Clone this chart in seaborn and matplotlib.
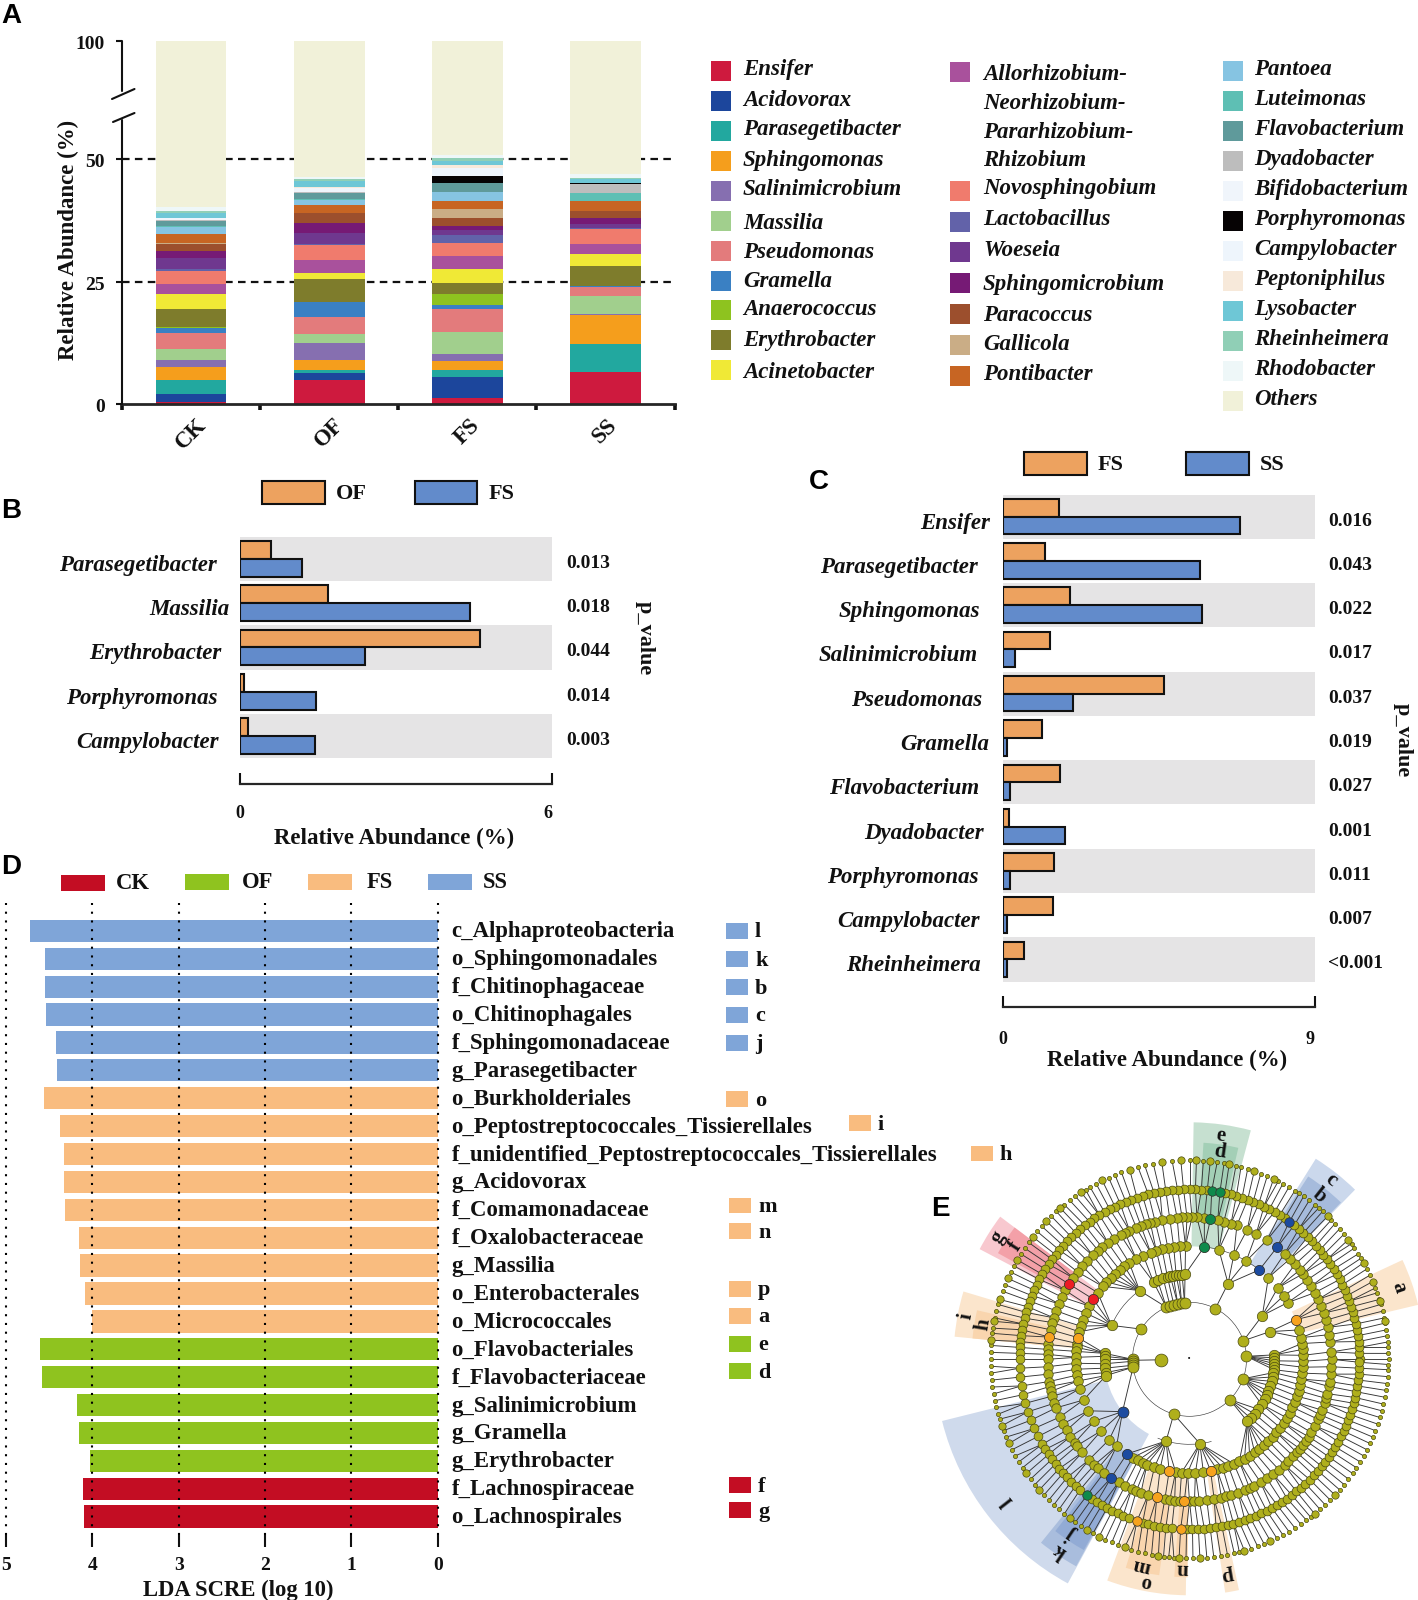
import numpy as np
import pandas as pd
import matplotlib
matplotlib.use("Agg")
import matplotlib.pyplot as plt
from matplotlib.patches import Rectangle, Wedge
from matplotlib.lines import Line2D
from matplotlib.collections import LineCollection
from matplotlib.transforms import ScaledTranslation
import seaborn as sns

# ---------- panel A data ----------
groups_a = ["CK", "OF", "FS", "SS"]
genera = ["Ensifer", "Acidovorax", "Parasegetibacter", "Sphingomonas", "Salinimicrobium", "Massilia",
          "Pseudomonas", "Gramella", "Anaerococcus", "Erythrobacter", "Acinetobacter",
          "Allorhizobium-Neorhizobium-Pararhizobium-Rhizobium", "Novosphingobium", "Lactobacillus",
          "Woeseia", "Sphingomicrobium", "Paracoccus", "Gallicola", "Pontibacter", "Pantoea",
          "Luteimonas", "Flavobacterium", "Dyadobacter", "Bifidobacterium", "Porphyromonas",
          "Campylobacter", "Peptoniphilus", "Lysobacter", "Rheinheimera", "Rhodobacter"]
ck_abund = [0.5, 1.6, 2.7, 2.8, 1.4, 2.2, 3.3, 0.95, 0.2, 3.7, 3.1, 2.1, 2.6, 0.3, 2.4, 1.3, 1.6, 0.05, 1.9,
            1.4, 0.3, 1.0, 0.2, 0.1, 0.15, 0.1, 0.1, 1.0, 0.3, 0.8]
of_abund = [4.9, 1.5, 0.6, 2.05, 3.5, 1.7, 3.6, 2.9, 0.03, 4.7, 1.2, 2.8, 2.9, 0.3, 2.3, 2.0, 2.0, 0.03, 1.7,
            0.95, 0.1, 1.4, 0.05, 0.8, 0.05, 0.1, 0.1, 1.2, 0.45, 0.4]
fs_abund = [1.2, 4.4, 1.3, 1.9, 1.4, 4.4, 4.7, 1.0, 2.1, 2.3, 2.9, 2.7, 2.6, 1.5, 1.2, 0.8, 1.5, 1.8, 1.7,
            1.8, 0.1, 1.85, 0.02, 0.02, 1.4, 1.6, 0.6, 0.9, 0.6, 0.5]
ss_abund = [6.55, 0.02, 5.7, 5.8, 0.3, 3.6, 2.0, 0.02, 0.02, 4.1, 2.6, 2.0, 3.1, 0.1, 0.8, 1.2, 1.4, 0.02, 2.0,
            0.07, 1.6, 0.1, 1.85, 0.02, 0.13, 0.02, 0.02, 0.8, 0.1, 0.9]
genus_colors = ["#CE1A3E", "#1C469C", "#22A89F", "#F59E1C", "#866FB0", "#A1CF8D", "#E37B7C", "#3A80C3",
                "#8EC31F", "#7E7C2C", "#F0E936", "#A9519C", "#F07B6D", "#6262A9", "#6F388F", "#761A75",
                "#9C4F2D", "#CAAD86", "#C76523", "#86C4E2", "#5EBFB4", "#5F9A9B", "#BDBDBD", "#F0F5FB",
                "#060304", "#EEF5FC", "#F7E9DA", "#6EC7D6", "#90CFB6", "#EEF7F8"]
others_color = "#F1F1D9"

leg1 = ["Ensifer", "Acidovorax", "Parasegetibacter", "Sphingomonas", "Salinimicrobium", "Massilia",
        "Pseudomonas", "Gramella", "Anaerococcus", "Erythrobacter", "Acinetobacter"]
leg2 = ["Novosphingobium", "Lactobacillus", "Woeseia", "Sphingomicrobium", "Paracoccus", "Gallicola", "Pontibacter"]
leg2_multi = ["Allorhizobium-", "Neorhizobium-", "Pararhizobium-", "Rhizobium"]
leg3 = ["Pantoea", "Luteimonas", "Flavobacterium", "Dyadobacter", "Bifidobacterium", "Porphyromonas",
        "Campylobacter", "Peptoniphilus", "Lysobacter", "Rheinheimera", "Rhodobacter", "Others"]

# ---------- panel B data ----------
b_genus = ["Parasegetibacter", "Massilia", "Erythrobacter", "Porphyromonas", "Campylobacter"]
b_of = [0.61, 1.69, 4.62, 0.08, 0.15]
b_fs = [1.20, 4.43, 2.40, 1.47, 1.44]
b_p = ["0.013", "0.018", "0.044", "0.014", "0.003"]

# ---------- panel C data ----------
c_genus = ["Ensifer", "Parasegetibacter", "Sphingomonas", "Salinimicrobium", "Pseudomonas", "Gramella",
           "Flavobacterium", "Dyadobacter", "Porphyromonas", "Campylobacter", "Rheinheimera"]
c_fs = [1.61, 1.21, 1.94, 1.37, 4.65, 1.14, 1.64, 0.16, 1.48, 1.44, 0.61]
c_ss = [6.84, 5.68, 5.74, 0.34, 2.02, 0.12, 0.19, 1.79, 0.19, 0.13, 0.12]
c_p = ["0.016", "0.043", "0.022", "0.017", "0.037", "0.019", "0.027", "0.001", "0.011", "0.007", "<0.001"]

# ---------- panel D data ----------
d_taxa = ["c_Alphaproteobacteria", "o_Sphingomonadales", "f_Chitinophagaceae", "o_Chitinophagales",
          "f_Sphingomonadaceae", "g_Parasegetibacter", "o_Burkholderiales", "o_Peptostreptococcales_Tissierellales",
          "f_unidentified_Peptostreptococcales_Tissierellales", "g_Acidovorax", "f_Comamonadaceae",
          "f_Oxalobacteraceae", "g_Massilia", "o_Enterobacterales", "o_Micrococcales", "o_Flavobacteriales",
          "f_Flavobacteriaceae", "g_Salinimicrobium", "g_Gramella", "g_Erythrobacter", "f_Lachnospiraceae",
          "o_Lachnospirales"]
d_lda = [4.72, 4.55, 4.55, 4.54, 4.42, 4.41, 4.56, 4.38, 4.33, 4.33, 4.32, 4.15, 4.14, 4.09, 4.00, 4.61, 4.58,
         4.18, 4.15, 4.03, 4.11, 4.10]
d_group = ["SS"] * 6 + ["FS"] * 9 + ["OF"] * 5 + ["CK"] * 2
d_palette = {"CK": "#C30D23", "OF": "#8FC31F", "FS": "#F9BC7F", "SS": "#7FA5D8"}
tag_letters = ["l", "k", "b", "c", "j", "o", "i", "h", "m", "n", "p", "a", "e", "d", "f", "g"]
tag_groups = ["SS", "SS", "SS", "SS", "SS", "FS", "FS", "FS", "FS", "FS", "FS", "FS", "OF", "OF", "CK", "CK"]
tag_y = [931, 959, 987, 1015, 1043, 1099, 1123, 1153.5, 1205.5, 1231, 1289, 1316, 1344, 1371, 1485, 1510]
tag_x = [726, 726, 726, 726, 726, 726, 848.5, 970.5, 729, 729, 729, 729, 729, 729, 729, 729]

# ---------- panel E data: node angles (degrees) on each ring of the cladogram ----------
ring1 = [181]
ring2 = [180, 182, 184, 186, 188, 148, 63, 19, 3, 340, 315, 254, 114, 110, 106, 102, 98, 95]
ring3 = [126, 156.5, 176, 178, 180, 183, 186, 189, 191, 218, 277, 254, 63, 31, 19, 115, 112, 108, 105, 103, 101,
         99, 97, 95, 93, 3, 1, 359, 357, 355, 353, 351, 348, 345, 342, 338, 335, 332, 328, 324, 320, 316, 313]
ring4 = [92, 95, 98, 101, 104, 107, 110, 114, 118, 122, 125, 128, 131, 134, 137, 140, 144, 148, 152, 156, 160, 163,
         166, 169, 172, 174, 176, 179, 182, 185, 188, 191, 195, 201, 207, 213, 219, 225, 230, 236.5, 240, 243,
         246, 248, 252, 255, 259.7, 263, 266, 269, 273, 277, 280.7, 284, 287, 290, 293, 296, 299, 302, 305, 308,
         311, 314, 317, 320, 323, 326, 329, 332, 335, 338, 341, 344, 347, 350, 353, 356, 359, 2, 5, 8, 11, 15,
         20.5, 30, 34, 39, 46, 52, 60, 67, 75, 82.5]
ring5 = [81.5, 84, 87, 89, 91, 93, 95, 98, 101, 104, 106, 108, 110, 112, 115, 117, 119, 122, 125, 128, 130, 133,
         136, 139, 142, 145, 148, 151, 154, 157, 160, 163, 165, 168, 171, 174, 176, 178, 180, 183, 186, 189, 191,
         193, 195, 198, 200, 204, 207, 210, 213, 216, 217.5, 221, 225, 228, 230, 233, 236.5, 240, 243, 246, 248,
         250, 253, 256.7, 260, 262, 264, 266, 267.9, 270, 272, 274, 277, 280, 283, 285, 287, 290, 293, 295, 297,
         300, 303, 306, 309, 312, 314, 317, 319, 321, 323, 325, 327, 329, 332, 335, 337, 339, 342, 344, 346, 349,
         351, 354, 357, 0, 3, 7, 10, 13, 16, 19, 22, 25, 28, 31, 34, 37, 39, 42, 45, 48, 52, 57, 62, 66, 70.5, 73,
         76, 78.5]
ring6 = [0, 2, 4, 6, 8, 10, 12, 14, 16, 18, 20, 22, 24, 26, 28, 30, 32, 34, 36, 38, 40, 42, 44, 46, 48, 50, 52, 54,
         56, 58, 60, 62, 64, 66, 68, 70, 72, 74, 76, 78, 79.7, 82.5, 84, 86, 88, 90, 92, 94, 96, 98, 100, 102, 104,
         106, 108, 110, 112, 114, 116, 118, 120, 122, 124, 126, 128, 130, 132, 134, 136, 138, 140, 142, 144, 146,
         148, 150, 152, 154, 156, 158, 160, 162, 164, 166, 168, 170, 172, 174, 176, 178, 180, 183, 186, 189, 192,
         195, 198, 201, 204, 207, 210, 212, 214, 216, 218, 220, 222, 224, 226, 228, 230, 233, 235, 237, 239, 241,
         243, 245, 247, 249, 252, 254, 256, 258, 260, 262, 264, 267, 269, 271, 273, 275, 277, 279, 281, 283, 285,
         287, 289, 291, 293, 295, 297, 299, 301, 303, 305, 307, 309, 311, 313, 315, 317, 319, 321, 323, 325, 327,
         329, 331, 333, 335, 337, 339, 341, 343, 345, 347, 349, 351, 353, 355, 357, 359]
ring7 = [0, 1.7, 3.4, 5, 6.8, 8.5, 10.5, 12, 14, 16, 17.5, 19.5, 21, 23, 25, 27, 29, 30.5, 32, 34, 35.5, 37, 39,
         41, 43, 44.5, 46, 48, 49.5, 51, 53, 55, 56.5, 58, 60, 62, 63.5, 65, 67, 69, 71, 73, 75, 76.5, 78.5, 80,
         82, 84, 86, 88, 90, 92.5, 95, 98, 100.5, 103, 105, 107.5, 110, 112, 114, 116, 118, 120, 121.5, 123,
         125, 127, 129, 130.5, 132, 134, 136, 138, 140, 142, 144, 146, 148, 150, 152, 154, 156, 158, 160, 162.5,
         164, 166, 168, 169, 171, 172.5, 174.5, 176, 178, 180, 182, 184, 186, 188, 190, 192, 194, 196, 197.5,
         199.5, 201, 203, 205, 207, 209, 211, 213, 215, 217, 219, 221, 223, 225, 227, 229, 231, 233, 235, 237,
         239, 241, 243, 245, 247, 249, 251, 253, 255, 257, 259, 261, 262.5, 264, 265.5, 267, 269, 271, 273, 275,
         277, 279, 281, 283, 284.5, 286, 288, 290, 292, 294, 296, 298, 300, 302, 304, 306, 307.5, 309, 311, 313,
         315, 317, 319, 321, 323, 325, 327, 329, 331, 333, 335, 337, 339, 341, 343, 345, 347, 349, 351, 353,
         355, 357, 358.5]
ring7_large = [98, 92.5, 88, 84, 78.5, 71, 65, 107.5, 116, 123, 130.5, 136, 142, 162.5, 169, 174.5, 199.5, 205, 215,
               221, 233, 239, 243, 251, 261, 267, 273, 286, 294, 309, 317, 11, 17, 23, 29, 37, 46, 150, 156]
rings = [ring1, ring2, ring3, ring4, ring5, ring6, ring7]
ring_radii = [28.7, 57, 85, 113.5, 142, 170, 199]
ring_sizes = [85, 62, 56, 48, 46, 40, 9]
marked_ring = [4, 5, 6, 6, 4, 5, 6, 3, 4, 5, 6, 4, 4, 5, 4, 4, 5, 5, 6, 6, 5, 4]
marked_angle = [82.5, 81.5, 82.5, 79.7, 52, 52, 54, 218, 236.5, 236.5, 233, 20.5, 169, 171, 259.7, 280.7, 256.7,
                267.9, 252, 267, 148, 148]
marked_color = ["#0E8A4B", "#0E8A4B", "#0E8A4B", "#0E8A4B", "#1C4BA0", "#1C4BA0", "#1C4BA0", "#1C4BA0", "#1C4BA0",
                "#1C4BA0", "#0E8A4B", "#F7A21E", "#F7A21E", "#F7A21E", "#F7A21E", "#F7A21E", "#F7A21E", "#F7A21E",
                "#F7A21E", "#F7A21E", "#ED1C24", "#ED1C24"]
arc_radius = [85, 85, 113.5]
arc_start = [125, 248, 52]
arc_end = [160, 285, 83]
# wedge: inner radius, outer radius, start angle, end angle, colour
wedge_inner = [113, 142, 113, 142, 113, 113, 142, 113, 142, 85, 113, 142, 113, 142, 142, 113]
wedge_outer = [237, 217, 237, 218, 235, 237, 219, 236, 218, 255, 236, 218, 236, 218, 218, 236]
wedge_start = [75, 77, 45.7, 46, 13.4, 143, 143, 163.3, 167, 194, 231, 232, 249.6, 253, 266, 278.7]
wedge_end = [89, 86.3, 57.8, 57, 25, 152.3, 151, 174.5, 174.5, 241.5, 241.3, 241, 269.1, 262, 269.5, 282.1]
wedge_color = ["#C6E0D0", "#A3CFB6", "#CBD8EC", "#A6BBDC", "#FBE5CC", "#F8C8CF", "#F3A0A8", "#FBE5CC", "#F9D5AE",
               "#CFDAEC", "#A9BDDD", "#92ABD5", "#FBE5CC", "#F9D5AE", "#F9D5AE", "#FBE5CC"]
clade_letters = ["e", "d", "c", "b", "a", "g", "f", "i", "h", "l", "k", "j", "o", "m", "n", "p"]
clade_r = [226, 210, 228, 209, 221, 227, 207, 227, 209, 230, 231, 211, 227, 212, 210, 219]
clade_theta = [82, 81.7, 51.8, 51.5, 19, 147.5, 147, 169, 170.5, 218, 236, 236, 259, 257, 268, 280]

# ---------- layout helpers ----------
W, H = 1418, 1600
sns.set_theme(style="white")
plt.rcParams["font.family"] = ["Liberation Serif", "DejaVu Serif"]
plt.rcParams["font.weight"] = "bold"
plt.rcParams["axes.linewidth"] = 1.5
plt.rcParams["text.color"] = "#111111"
plt.rcParams["xtick.color"] = "#111111"
plt.rcParams["ytick.color"] = "#111111"
fig = plt.figure(figsize=(W / 100, H / 100), dpi=100, facecolor="white")


def px_axes(l, t, r, b, **kw):
    return fig.add_axes([l / W, 1 - b / H, (r - l) / W, (b - t) / H], **kw)


def ftext(x, y, s, **kw):
    kw.setdefault("va", "center")
    return fig.text(x / W, 1 - y / H, s, **kw)


def frect(l, t, r, b, color, edge=None, lw=0):
    fig.add_artist(Rectangle((l / W, 1 - b / H), (r - l) / W, (b - t) / H, transform=fig.transFigure,
                             facecolor=color, edgecolor=edge if edge else color, linewidth=lw))


def fline(x0, y0, x1, y1, lw=1.5):
    fig.add_artist(Line2D([x0 / W, x1 / W], [1 - y0 / H, 1 - y1 / H], transform=fig.transFigure,
                          color="#111111", linewidth=lw))


def shift_labels(labels, dy_px):
    for lab in labels:
        lab.set_transform(lab.get_transform() + ScaledTranslation(0, -dy_px / 100, fig.dpi_scale_trans))


for letter, x, y in [("A", 11, 16), ("B", 11, 511), ("C", 819, 482), ("D", 11, 867), ("E", 940, 1209)]:
    ftext(x, y, letter, ha="center", family="Liberation Sans", fontsize=20, color="black")

# ---------- panel A ----------
ax = px_axes(122, 41, 674.5, 404)
a_df = pd.DataFrame({"group": groups_a})
for g, c1, c2, c3, c4 in zip(genera, ck_abund, of_abund, fs_abund, ss_abund):
    a_df[g] = [c1, c2, c3, c4]
a_df["Others"] = 100 - a_df[genera].sum(axis=1)
bottom = np.zeros(4)
for g, color in zip(genera + ["Others"], genus_colors + [others_color]):
    sns.barplot(data=a_df, x="group", y=g, order=groups_a, color=color, saturation=1, width=0.512,
                bottom=bottom, ax=ax, linewidth=0, errorbar=None, zorder=2)
    bottom = bottom + a_df[g].values
for lvl in (25, 50):
    ax.axhline(lvl, color="#111111", lw=1.6, ls=(0, (3.4, 2.4)), zorder=1)
brk_x = [0, 58, 100]
brk_y = [0, 284.2, 363]
ax.set_yscale("function", functions=(lambda v: np.interp(v, brk_x, brk_y), lambda v: np.interp(v, brk_y, brk_x)))
ax.set_xlim(-0.5, 3.5)
ax.set_ylim(0, 100)
ax.set_xlabel("")
ax.set_ylabel("")
ax.set_yticks([0, 25, 50, 100])
ax.set_yticklabels(["0", "25", "50", "100"], fontsize=14)
ax.yaxis.set_minor_locator(matplotlib.ticker.NullLocator())
ax.tick_params(axis="y", left=True, length=4.2, width=1.5, pad=8)
ax.tick_params(axis="x", which="major", bottom=False, length=0, pad=7.5)
ax.set_xticks([-0.5, 0.5, 1.5, 2.5, 3.5], minor=True)
ax.tick_params(axis="x", which="minor", bottom=True, length=4, width=2.6, direction="out")
plt.setp(ax.get_xticklabels(), rotation=45, fontsize=16.5, ha="center")
shift_labels(ax.get_yticklabels(), 1.5)
for s in ("top", "right", "left"):
    ax.spines[s].set_visible(False)
ax.spines["bottom"].set_linewidth(2)
fline(122, 404, 122, 120)
fline(122, 41, 122, 91)
fline(112, 99, 134.5, 89)
fline(113, 122, 134.5, 113)
ftext(68, 240, "Relative Abundance (%)", rotation=90, ha="center", fontsize=16.5)

name_color = dict(zip(genera + ["Others"], genus_colors + [others_color]))
ys1 = [71, 101, 131, 160.7, 190.7, 221, 250.7, 281, 310.3, 340.3, 370.3]
ty1 = [69.4, 100, 129.6, 160.2, 189.8, 223.5, 252, 281.6, 309.2, 340.8, 372.5]
ys2 = [191, 221.7, 252.3, 283.3, 314.3, 345, 375.7]
ty2 = [188.8, 219.4, 250, 284.7, 315.3, 344.9, 374.5]
ys2m = [75, 103.3, 132, 160.7]
ys3 = [71, 101, 131, 161, 191, 221, 250.7, 280.7, 310.7, 340.7, 370.7, 400.7]
for n, y, ty in zip(leg1, ys1, ty1):
    frect(711, y - 10, 731, y + 10, name_color[n])
    ftext(743, ty, n, style="italic", fontsize=16.5)
frect(950, 62, 970, 82, name_color[genera[11]])
for n, y in zip(leg2_multi, ys2m):
    ftext(983, y, n, style="italic", fontsize=16.5)
for n, y, ty in zip(leg2, ys2, ty2):
    frect(950, y - 10, 970, y + 10, name_color[n])
    ftext(983, ty, n, style="italic", fontsize=16.5)
for n, y in zip(leg3, ys3):
    frect(1222.5, y - 10, 1242.5, y + 10, name_color[n])
    ftext(1254.5, y - 1.5, n, style="italic", fontsize=16.5)


# ---------- panels B and C ----------
def paired(l, t, r, b, names, first, second, labels, xmax, pvals, right_ends, pv_x, tick_pad):
    a = px_axes(l, t, r, b)
    df = pd.DataFrame({"genus": names, labels[0]: first, labels[1]: second}).melt("genus", var_name="grp",
                                                                                  value_name="val")
    for i in range(0, len(names), 2):
        a.axhspan(i - 0.5, i + 0.5, color="#E5E4E5", lw=0, zorder=0)
    sns.barplot(data=df, y="genus", x="val", hue="grp", order=names, hue_order=labels,
                palette=["#EDA25F", "#628BCB"], saturation=1, width=0.8, edgecolor="#111111", linewidth=1.5,
                legend=False, ax=a, zorder=2, errorbar=None)
    a.set_xlim(0, xmax)
    a.set_ylim(len(names) - 0.5, -0.5)
    a.set_xlabel("")
    a.set_ylabel("")
    a.set_facecolor("none")
    for s in ("top", "right", "left"):
        a.spines[s].set_visible(False)
    a.spines["bottom"].set_position(("outward", 18.5))
    a.spines["bottom"].set_linewidth(1.6)
    a.set_xticks([0, xmax])
    a.set_xticklabels(["0", str(xmax)], fontsize=13)
    a.tick_params(axis="x", bottom=True, direction="in", length=8, width=1.5, pad=tick_pad)
    a.get_xticklabels()[1].set_ha("right")
    a.tick_params(axis="y", left=False, length=0, labelsize=16.5)
    for lab in a.get_yticklabels():
        lab.set_style("italic")
    for tick, end in zip(a.yaxis.get_major_ticks(), right_ends):
        tick.set_pad((l - end) * 0.72)
    shift_labels(a.get_yticklabels(), 4)
    for i, p in enumerate(pvals):
        a.text((pv_x - l) / (r - l), i + 0.1, p, transform=a.get_yaxis_transform(), fontsize=14, va="center")
    return a


paired(239.7, 536.7, 552, 758.3, b_genus, b_of, b_fs, ["OF", "FS"], 6, b_p, [217, 230, 221, 218, 219], 566, 15)
frect(262, 481, 324.5, 503.7, "#EDA25F", "#111111", 1.5)
frect(415.3, 481, 477.5, 503.7, "#628BCB", "#111111", 1.5)
ftext(335.5, 494, "OF", fontsize=16)
ftext(489, 494, "FS", fontsize=16)
ftext(394, 838.5, "Relative Abundance (%)", ha="center", fontsize=16.5)
ftext(645, 637.7, "p_value", rotation=-90, ha="center", fontsize=16)

paired(1003, 494.5, 1314.5, 981.6, c_genus, c_fs, c_ss, ["FS", "SS"], 9, c_p,
       [990.5, 977.6, 980.4, 977.6, 982, 988.9, 978.8, 983.6, 978.4, 980, 981.2], 1328, 17)
frect(1023.5, 452, 1086.5, 474.5, "#EDA25F", "#111111", 1.5)
frect(1185.7, 452, 1248.5, 474.5, "#628BCB", "#111111", 1.5)
ftext(1098, 464.8, "FS", fontsize=16)
ftext(1260, 464.8, "SS", fontsize=16)
ftext(1167, 1060.5, "Relative Abundance (%)", ha="center", fontsize=16.5)
ftext(1403, 740, "p_value", rotation=-90, ha="center", fontsize=16)

# ---------- panel D ----------
ax = px_axes(6, 903, 437.7, 1535)
d_df = pd.DataFrame({"taxon": d_taxa, "lda": d_lda, "group": d_group})
sns.barplot(data=d_df, y="taxon", x="lda", hue="group", order=d_taxa, dodge=False, palette=d_palette, saturation=1,
            width=0.8, legend=False, ax=ax, linewidth=0, errorbar=None)
ax.set_xlim(5, 0)
ax.set_ylim(21.66, -1)
ax.set_xlabel("")
ax.set_ylabel("")
for v in range(6):
    ax.axvline(v, color="black", lw=1.5, ls=(0, (1, 3.2)), zorder=5, clip_on=False)
for s in ("top", "right", "left", "bottom"):
    ax.spines[s].set_visible(False)
ax.yaxis.tick_right()
ax.tick_params(axis="y", right=False, length=0, pad=10, labelsize=16.4)
shift_labels(ax.get_yticklabels(), -1.5)
ax.set_xticks(range(6))
ax.tick_params(axis="x", bottom=True, length=8.5, width=1.5, pad=7, labelsize=14)
ftext(238.7, 1590, "LDA SCRE (log 10)", ha="center", fontsize=16.3)
for name, l, y, lx in [("CK", 61, 882.8, 116), ("OF", 185, 881.7, 242.3), ("FS", 308, 881.7, 366.7),
                       ("SS", 427.7, 881.7, 483)]:
    frect(l, y - 7.8, l + 44, y + 7.8, d_palette[name])
    ftext(lx, y + 1, name, fontsize=16.3)
for letter, g, x, y in zip(tag_letters, tag_groups, tag_x, tag_y):
    frect(x, y - 7.7, x + 22, y + 7.7, d_palette[g])
    ftext(x + 29, y + 1.5, letter, fontsize=16)

# ---------- panel E ----------
cx, cy = 1189.5, 1359.3
ax = px_axes(930, 1100, 1418, 1600)
ax.set_xlim(930 - cx, 1418 - cx)
ax.set_ylim(cy - 1600, cy - 1100)
ax.axis("off")
for ri, ro, t0, t1, col in zip(wedge_inner, wedge_outer, wedge_start, wedge_end, wedge_color):
    ax.add_patch(Wedge((0, 0), ro, t0, t1, width=ro - ri, facecolor=col, edgecolor="none", zorder=1))


def polar(r, deg):
    a = np.deg2rad(np.asarray(deg, dtype=float))
    return r * np.cos(a), r * np.sin(a)


segs = []
for k in range(2, 7):
    par = np.asarray(rings[k - 1], dtype=float)
    for ang in rings[k]:
        d = np.abs((par - ang + 180) % 360 - 180)
        p = par[np.argmin(d)]
        segs.append([polar(ring_radii[k], ang), polar(ring_radii[k - 1], p)])
segs.append([polar(ring_radii[0], 181), polar(ring_radii[1], 181)])
ax.add_collection(LineCollection(segs, colors="#333333", linewidths=0.65, zorder=2))
ax.add_patch(Wedge((0, 0), ring_radii[1] + 0.3, 0, 360, width=0.6, facecolor="#333333", edgecolor="none", zorder=2))
for r, t0, t1 in zip(arc_radius, arc_start, arc_end):
    ax.add_patch(Wedge((0, 0), r + 0.3, t0, t1, width=0.6, facecolor="#333333", edgecolor="none", zorder=2))
for k, (ring, r, s) in enumerate(zip(rings, ring_radii, ring_sizes)):
    xs, ys = polar(r, ring)
    sns.scatterplot(x=xs, y=ys, s=s, color="#AFAF1C", edgecolor="#4A4A10", linewidth=0.5, ax=ax, zorder=3 + k * 0.01,
                    legend=False)
xs, ys = polar(ring_radii[6], ring7_large)
sns.scatterplot(x=xs, y=ys, s=28, color="#AFAF1C", edgecolor="#4A4A10", linewidth=0.5, ax=ax, zorder=3.1, legend=False)
for rg, an, col in zip(marked_ring, marked_angle, marked_color):
    xs, ys = polar(ring_radii[rg - 1], [an])
    sns.scatterplot(x=xs, y=ys, s=ring_sizes[rg - 1] + 6, color=col, edgecolor="#333333", linewidth=0.5, ax=ax, zorder=4,
                    legend=False)
ax.set_xlim(930 - cx, 1418 - cx)
ax.set_ylim(cy - 1600, cy - 1100)
ax.set_xlabel("")
ax.set_ylabel("")
ax.text(0, 0, "·", ha="center", va="center", fontsize=9, zorder=3)
for letter, r, th in zip(clade_letters, clade_r, clade_theta):
    x, y = polar(r, th)
    ax.text(x, y, letter, rotation=th - 90, rotation_mode="anchor", ha="center", va="center", fontsize=15, zorder=5)

fig.savefig("out.png", dpi=100, facecolor="white")
